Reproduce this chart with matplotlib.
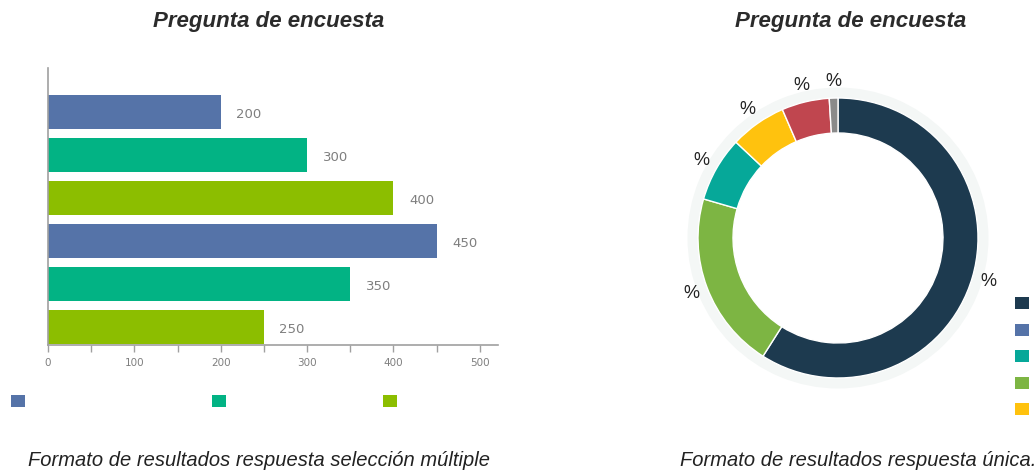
import matplotlib
matplotlib.use("Agg")
import matplotlib.pyplot as plt
from matplotlib.patches import Patch, Wedge

# ── data ──────────────────────────────────────────────────────────────────────
bar_values = [200, 300, 400, 450, 350, 250]
bar_colors = ["#5573a8", "#02b384", "#8cbe00", "#5573a8", "#02b384", "#8cbe00"]
bar_legend_colors = ["#5573a8", "#02b384", "#8cbe00"]
bar_xticks = [0, 100, 200, 300, 400, 500]

donut_values = [59.0, 20.5, 7.5, 6.5, 5.5, 1.0]
donut_colors = ["#1d3a4f", "#7db543", "#06a899", "#ffc20e", "#c0464f", "#8a8a8a"]
donut_legend_colors = ["#1d3a4f", "#5573a8", "#06a899", "#7db543", "#ffc20e"]

title = "Pregunta de encuesta"
caption_left = "Formato de resultados respuesta selección múltiple"
caption_right = "Formato de resultados respuesta única."

W, H = 1035, 470
fig = plt.figure(figsize=(W / 100, H / 100), dpi=100)
plt.rcParams["font.family"] = ["Liberation Sans", "DejaVu Sans"]

def px_axes(x0, y0, x1, y1):
    return fig.add_axes([x0 / W, 1 - y1 / H, (x1 - x0) / W, (y1 - y0) / H])

# ── bar chart ────────────────────────────────────────────────────────────────
ax = px_axes(48, 68, 498, 345)
ypos = range(len(bar_values))
ax.barh(ypos, bar_values, height=0.79, color=bar_colors)
for y, v in zip(ypos, bar_values):
    ax.text(v + 18, y + 0.05, str(v), va="center", ha="left", fontsize=9.5,
            color="#7f7f7f", family="DejaVu Sans")
ax.set_xlim(0, 521)
ax.set_ylim(5.42, -1.02)
ax.set_xticks(bar_xticks)
ax.set_xticks(range(50, 500, 100), minor=True)
ax.set_xticklabels([str(t) for t in bar_xticks], fontsize=7.5, color="#7f7f7f",
                   family="DejaVu Sans")
ax.tick_params(axis="x", which="both", direction="out", length=5, width=1,
               color="#a0a0a0", pad=4)
ax.set_yticks([])
for s in ["top", "right"]:
    ax.spines[s].set_visible(False)
for s in ["left", "bottom"]:
    ax.spines[s].set_color("#a0a0a0")
    ax.spines[s].set_linewidth(1.2)

for xp, c in zip([11, 212, 383], bar_legend_colors):
    fig.legend(handles=[Patch(facecolor=c)], labels=[""], loc="center left",
               bbox_to_anchor=(xp / W, 1 - 402 / H), frameon=False,
               handlelength=1.0, handleheight=1.0, fontsize=10,
               borderpad=0, borderaxespad=0, handletextpad=0)

# ── donut chart ──────────────────────────────────────────────────────────────
cx, cy, R = 838, 238, 140
ax2 = px_axes(cx - 180, cy - 180, cx + 180, cy + 180)
ax2.add_patch(Wedge((0, 0), 1.075, 0, 360, width=0.09, facecolor="#f4f7f6",
                    edgecolor="none", zorder=0))
wedges, texts = ax2.pie(donut_values, colors=donut_colors, startangle=90,
                        counterclock=False, labels=["%"] * len(donut_values),
                        labeldistance=1.12, radius=1.0,
                        wedgeprops=dict(width=0.25, edgecolor="white", linewidth=1),
                        textprops=dict(fontsize=13, color="#222222"))
for t in texts:
    t.set_ha("center")
    t.set_va("center")
ax2.set_xlim(-180 / R, 180 / R)
ax2.set_ylim(-180 / R, 180 / R)
ax2.set_aspect("equal")
ax2.axis("off")

fig.legend(handles=[Patch(facecolor=c) for c in donut_legend_colors],
           labels=[""] * len(donut_legend_colors), loc="upper left",
           bbox_to_anchor=(1015 / W, 1 - 297 / H), frameon=False,
           handlelength=1.0, handleheight=1.0, fontsize=10, labelspacing=0.9,
           borderpad=0, borderaxespad=0, handletextpad=0)

# ── titles / captions ─────────────────────────────────────────────────────────
fig.text(269 / W, 1 - 22 / H, title, ha="center", va="center", fontsize=16,
         fontweight="bold", fontstyle="italic", color="#2b2b2b")
fig.text(851 / W, 1 - 22 / H, title, ha="center", va="center", fontsize=16,
         fontweight="bold", fontstyle="italic", color="#2b2b2b")
fig.text(28 / W, 1 - 461 / H, caption_left, ha="left", va="center", fontsize=14.5,
         fontstyle="italic", color="#222222")
fig.text(680 / W, 1 - 461 / H, caption_right, ha="left", va="center", fontsize=14.5,
         fontstyle="italic", color="#222222")

fig.savefig("out.png", dpi=100)
